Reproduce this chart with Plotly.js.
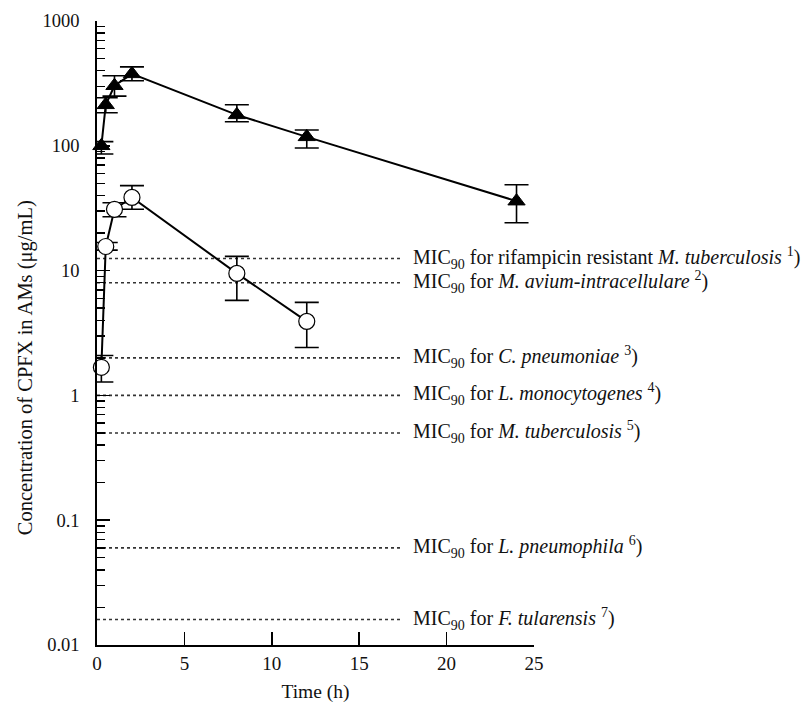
<!DOCTYPE html>
<html>
<head>
<meta charset="utf-8">
<script src="https://cdn.plot.ly/plotly-3.0.1.min.js"></script>
<style>html,body{margin:0;padding:0;background:#fff;}#chart{width:807px;height:705px;}</style>
</head>
<body>
<div id="chart"></div>
<script>
// Triangles (filled)
const timeA = [0.25, 0.5, 1, 2, 8, 12, 24];
const concA = [100, 213, 303, 377, 177, 118, 36];
const errA_plus = [8, 30, 61, 52, 36, 16, 12.7];
const errA_minus = [14, 29, 53, 45, 21, 22, 11.8];

// Circles (open)
const timeB = [0.25, 0.5, 1, 2, 8, 12];
const concB = [1.68, 15.6, 31, 38.6, 9.5, 3.92];
const errB_plus = [0.41, 1.2, 4, 9.4, 3.5, 1.64];
const errB_minus = [0.4, 1.0, 4, 7.6, 3.73, 1.5];

// MIC90 reference lines
const micValues = [12.5, 8, 2, 1, 0.5, 0.06, 0.016];
const micLabels = [
  'MIC<sub>90</sub> for rifampicin resistant <i>M. tuberculosis</i> <sup>1</sup>)',
  'MIC<sub>90</sub> for <i>M. avium-intracellulare</i> <sup>2</sup>)',
  'MIC<sub>90</sub> for <i>C. pneumoniae</i> <sup>3</sup>)',
  'MIC<sub>90</sub> for <i>L. monocytogenes</i> <sup>4</sup>)',
  'MIC<sub>90</sub> for <i>M. tuberculosis</i> <sup>5</sup>)',
  'MIC<sub>90</sub> for <i>L. pneumophila</i> <sup>6</sup>)',
  'MIC<sub>90</sub> for <i>F. tularensis</i> <sup>7</sup>)'
];
const micLineStart = 0;
const micLineEnd = 17.45;
const micLabelX = 17.95;

const yTickVals = [0.01, 0.1, 1, 10, 100, 1000];
const yTickText = ['0.01', '0.1', '1', '10', '100', '1000'];
const xTickVals = [0, 5, 10, 15, 20, 25];
const yTitle = 'Concentration of CPFX in AMs (μg/mL)';
const xTitle = 'Time (h)';

const FONT = 'Liberation Serif, Times New Roman, serif';

const traces = [];
micValues.forEach(function(v){
  traces.push({
    x: [micLineStart, micLineEnd], y: [v, v], mode: 'lines', type: 'scatter',
    line: {color: '#333', width: 1.6, dash: 'dot'}, hoverinfo: 'skip', showlegend: false
  });
});

traces.push({
  x: timeA, y: concA, type: 'scatter', mode: 'lines+markers',
  line: {color: '#000', width: 2},
  marker: {symbol: 'triangle-up', size: 15, color: '#000', line: {color: '#000', width: 1}},
  error_y: {type: 'data', symmetric: false, array: errA_plus, arrayminus: errA_minus,
            color: '#000', thickness: 1.6, width: 12},
  cliponaxis: false, showlegend: false
});
traces.push({
  x: timeB, y: concB, type: 'scatter', mode: 'lines+markers',
  line: {color: '#000', width: 2},
  marker: {symbol: 'circle', size: 16, color: '#fff', line: {color: '#000', width: 1.2}},
  error_y: {type: 'data', symmetric: false, array: errB_plus, arrayminus: errB_minus,
            color: '#000', thickness: 1.6, width: 12},
  cliponaxis: false, showlegend: false
});

const annotations = micValues.map(function(v, i){
  return {
    x: micLabelX, y: Math.log10(v), xref: 'x', yref: 'y',
    text: micLabels[i], showarrow: false, xanchor: 'left', yanchor: 'middle',
    yshift: 1, font: {family: FONT, size: 20, color: '#111'}
  };
});
annotations.push({
  x: -0.165, y: 0.445, xref: 'paper', yref: 'paper', text: yTitle, textangle: -90,
  showarrow: false, xanchor: 'center', yanchor: 'middle',
  font: {family: FONT, size: 20.5, color: '#111'}
});

const layout = {
  width: 807, height: 705,
  margin: {l: 97, r: 273, t: 21, b: 60},
  paper_bgcolor: '#fff', plot_bgcolor: '#fff',
  font: {family: FONT, size: 19, color: '#111'},
  showlegend: false,
  xaxis: {
    range: [0, 25], tickmode: 'array', tickvals: xTickVals,
    ticks: 'inside', ticklen: 13, tickwidth: 1.6, tickcolor: '#000',
    showline: true, linecolor: '#000', linewidth: 1.8, showgrid: false, zeroline: false,
    tickfont: {family: FONT, size: 19, color: '#111'},
    title: {text: xTitle, font: {family: FONT, size: 19.5, color: '#111'}, standoff: 12}
  },
  yaxis: {
    type: 'log', range: [-2, 3], tickmode: 'array', tickvals: yTickVals, ticktext: yTickText,
    ticks: 'inside', ticklen: 13, tickwidth: 1.6, tickcolor: '#000',
    minor: {ticks: 'inside', ticklen: 8, tickwidth: 1.4, tickcolor: '#000', dtick: 'D1', showgrid: false},
    showline: true, linecolor: '#000', linewidth: 1.8, showgrid: false, zeroline: false,
    ticklabelstandoff: 12,
    tickfont: {family: FONT, size: 18.5, color: '#111'}
  },
  annotations: annotations
};

Plotly.newPlot('chart', traces, layout, {staticPlot: true, displayModeBar: false});
</script>
</body>
</html>
